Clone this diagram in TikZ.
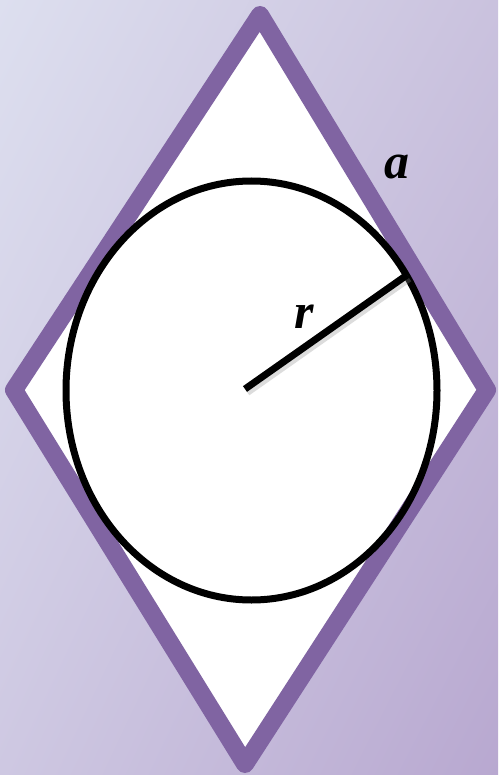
\documentclass[tikz,border=0pt]{standalone}
\usepackage{fontspec}
\setmainfont{Liberation Serif}
\usetikzlibrary{shadings}
\definecolor{bgUL}{RGB}{221,223,239}
\definecolor{bgUR}{RGB}{202,194,222}
\definecolor{bgLL}{RGB}{206,200,226}
\definecolor{bgLR}{RGB}{184,168,208}
\definecolor{rhombpurple}{RGB}{128,100,162}
\tikzset{
  rhombline/.style={draw=rhombpurple, line width=18pt, line join=round, fill=white},
  circline/.style={draw=black, line width=7pt},
  radline/.style={draw=black, line width=7pt},
  radshadow/.style={draw=black!45, line width=8pt, opacity=0.3},
  lbl/.style={font=\fontsize{50}{50}\selectfont\bfseries\itshape, inner sep=0pt}
}
\begin{document}
\begin{tikzpicture}[x=1pt,y=-1pt]
\useasboundingbox (0,0) rectangle (498,775);
\shade[upper left=bgUL, upper right=bgUR, lower left=bgLL, lower right=bgLR] (0,0) rectangle (498,775);
\coordinate (T) at (260,15);
\coordinate (R) at (487,390);
\coordinate (B) at (245,764);
\coordinate (L) at (14,390);
\coordinate (O) at (251.5,390.5);
\coordinate (S) at (245,389);
\coordinate (P) at (407,275);
\path[rhombline] (T) -- (R) -- (B) -- (L) -- cycle;
\draw[circline] (O) ellipse [x radius=185.5, y radius=209.5];
\draw[radshadow] ([shift={(2,3)}]S) -- ([shift={(2,3)}]P);
\draw[radline] (S) -- (P);
\node[lbl] (a) at (397,167) {a};
\node[lbl] (r) at (304,317) {r};
\end{tikzpicture}
\end{document}
